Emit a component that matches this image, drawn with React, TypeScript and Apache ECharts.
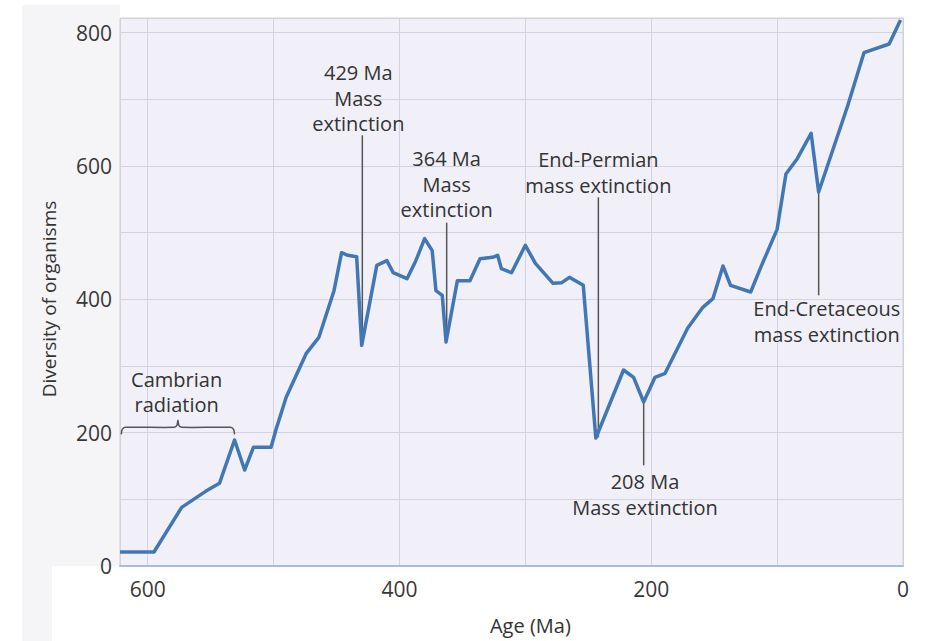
import React, { useEffect, useRef } from "react";
import * as echarts from "echarts";

// Age (Ma) and diversity of organisms
const ages = [622, 595, 573, 554, 543, 531, 523, 516, 502, 498, 490, 474, 464, 452, 446, 441, 434, 430, 418, 410, 405, 394, 387, 380, 374, 371, 366, 363, 354, 344, 336, 326, 322, 319, 311, 300, 292, 278, 271, 265, 254, 244, 222, 214, 206, 197, 189, 171, 159, 151, 143, 137, 121, 113, 100, 93, 84, 73, 67, 44, 31, 11, 2];
const diversity = [21, 21, 88, 112, 124, 189, 144, 178, 178, 205, 253, 319, 343, 413, 470, 466, 464, 331, 451, 458, 440, 431, 458, 491, 473, 413, 406, 336, 428, 428, 461, 463, 466, 446, 440, 481, 454, 424, 425, 433, 421, 192, 294, 283, 246, 283, 289, 357, 388, 401, 450, 421, 411, 448, 505, 588, 611, 649, 561, 690, 770, 783, 819];

const xTickLabels = [0, 200, 400, 600];
const yTickLabels = [0, 200, 400, 600, 800];

// annotation texts: [age, diversity] at block centre
const annTexts = ["429 Ma\nMass\nextinction", "364 Ma\nMass\nextinction", "End-Permian\nmass extinction", "208 Ma\nMass extinction", "End-Cretaceous\nmass extinction", "Cambrian\nradiation"];
const annTextAge = [432.7, 362.5, 242, 205, 60.5, 577];
const annTextVal = [702, 573, 590, 107, 367, 261];
// leader lines: age, from value, to value
const leaderAge = [429.5, 362.5, 242, 206, 67];
const leaderFrom = [646, 515, 553, 246, 560];
const leaderTo = [339, 346, 193, 151, 406];
// Cambrian brace: from age to age at value
const braceAges = [621, 531];
const braceVal = 208;

const FONT = "'Open Sans', 'Noto Sans', sans-serif";

export default function App() {
  const ref = useRef<HTMLDivElement>(null);
  useEffect(() => {
    if (!ref.current) return;
    const chart = echarts.init(ref.current, undefined, { renderer: "svg" });
    chart.setOption({
      animation: false,
      backgroundColor: "#ffffff",
      grid: {
        left: 120,
        right: 22,
        top: 18,
        bottom: 75,
        show: true,
        backgroundColor: "#f1f0f9",
        borderColor: "#cfd0dc",
        borderWidth: 1,
        outerBoundsMode: "none",
        containLabel: false,
      },
      xAxis: {
        type: "value",
        inverse: true,
        min: 0,
        max: 622,
        interval: 100,
        axisLine: { show: true, lineStyle: { color: "#a8bddc", width: 2 } },
        axisTick: { show: false },
        splitLine: { show: true, lineStyle: { color: "#d2d3e0", width: 1 } },
        axisLabel: {
          margin: 12,
          fontSize: 21,
          color: "#383838",
          fontFamily: FONT,
          formatter: (v: number) => (xTickLabels.indexOf(v) >= 0 ? String(v) : ""),
        },
      },
      yAxis: {
        type: "value",
        min: 0,
        max: 822,
        interval: 100,
        axisLine: { show: true, lineStyle: { color: "#cfd0dc" } },
        axisTick: { show: false },
        splitLine: { show: true, lineStyle: { color: "#d2d3e0", width: 1 } },
        axisLabel: {
          margin: 8,
          fontSize: 21,
          color: "#383838",
          fontFamily: FONT,
          formatter: (v: number) => (yTickLabels.indexOf(v) >= 0 ? String(v) : ""),
        },
      },
      series: [
        {
          type: "line",
          data: ages.map((a, i) => [a, diversity[i]]),
          showSymbol: false,
          symbol: "none",
          lineStyle: { color: "#4077b4", width: 3.5, join: "round" },
          z: 5,
        },
      ],
    });

    const px = (a: number, v: number) =>
      chart.convertToPixel({ xAxisIndex: 0, yAxisIndex: 0 }, [a, v]) as number[];

    const graphics: any[] = [];
    // scanned page strip on the left
    graphics.push({
      type: "rect",
      z: -10,
      silent: true,
      shape: { x: 22, y: 5, width: 98, height: 561 },
      style: { fill: "#f5f5f8" },
    });
    graphics.push({
      type: "rect",
      z: -10,
      silent: true,
      shape: { x: 22, y: 566, width: 30, height: 75 },
      style: { fill: "#f5f5f8" },
    });

    leaderAge.forEach((a, i) => {
      const p1 = px(a, leaderFrom[i]);
      const p2 = px(a, leaderTo[i]);
      graphics.push({
        type: "line",
        z: 4,
        shape: { x1: p1[0], y1: p1[1], x2: p2[0], y2: p2[1] },
        style: { stroke: "#555555", lineWidth: 1.5 },
      });
    });

    annTexts.forEach((t, i) => {
      const p = px(annTextAge[i], annTextVal[i]);
      graphics.push({
        type: "text",
        z: 10,
        x: p[0],
        y: p[1],
        style: {
          text: t,
          fill: "#333333",
          font: `20px ${FONT}`,
          align: "center",
          verticalAlign: "middle",
          lineHeight: 25.5,
        },
      });
    });

    // brace
    const b1 = px(braceAges[0], braceVal);
    const b2 = px(braceAges[1], braceVal);
    const mid = (b1[0] + b2[0]) / 2;
    const by = b1[1];
    graphics.push({
      type: "polyline",
      z: 10,
      shape: {
        points: [
          [b1[0], by + 7],
          [b1[0] + 1, by + 2],
          [b1[0] + 4, by],
          [mid - 4, by],
          [mid - 1, by - 2],
          [mid, by - 7],
          [mid + 1, by - 2],
          [mid + 4, by],
          [b2[0] - 4, by],
          [b2[0] - 1, by + 2],
          [b2[0], by + 7],
        ],
        smooth: 0.3,
      },
      style: { stroke: "#555555", lineWidth: 1.5, fill: "none" },
    });

    // axis names
    const xn = px(296, 0);
    graphics.push({
      type: "text",
      z: 10,
      x: xn[0],
      y: 625,
      style: { text: "Age (Ma)", fill: "#333333", font: `20px ${FONT}`, align: "center", verticalAlign: "middle" },
    });
    graphics.push({
      type: "text",
      z: 10,
      x: 49,
      y: 299,
      rotation: Math.PI / 2,
      style: { text: "Diversity of organisms", fill: "#333333", font: `19px ${FONT}`, align: "center", verticalAlign: "middle" },
    });

    chart.setOption({ graphic: graphics });

    return () => chart.dispose();
  }, []);

  return <div ref={ref} style={{ position: "absolute", left: 0, top: 0, width: 925, height: 641 }} />;
}
